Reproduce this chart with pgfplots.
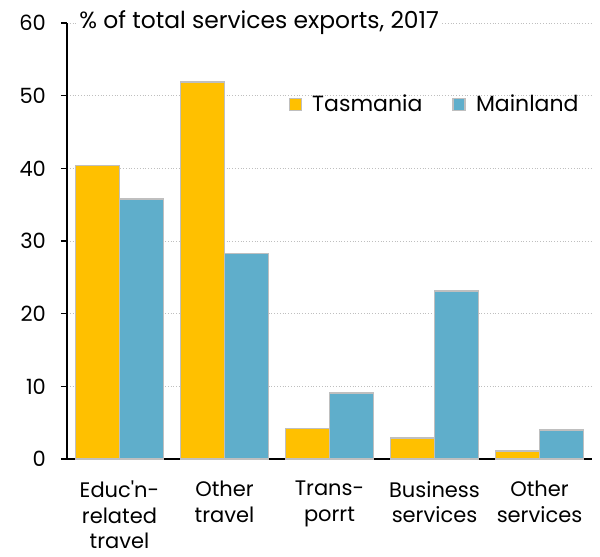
\documentclass[border=0pt]{standalone}
\usepackage{pgfplots}
\pgfplotsset{compat=1.18}
\usepackage{fontspec}
\setmainfont{Poppins}
\definecolor{tas}{HTML}{FFC000}
\definecolor{mainl}{HTML}{5FAECB}
\definecolor{bord}{HTML}{BFBFBF}

\begin{document}
\begin{tikzpicture}
\begin{axis}[
  at={(0,0)}, anchor=south west,
  scale only axis,
  width=262.5pt, height=218pt,
  xmin=-0.5, xmax=4.5,
  ymin=0, ymax=60,
  axis x line*=bottom,
  axis y line*=left,
  axis line style={line width=0.8pt, black, -},
  tick align=outside,
  ytick={0,10,...,60},
  ymajorgrids,
  grid style={densely dotted, gray!50, line width=0.4pt},
  xtick={0,...,4},
  xticklabels={{Educ\textquotesingle n-\\related\\travel},{Other\\travel},{Trans-\\porrt},{Business\\services},{Other\\services}},
  x tick label style={align=center, anchor=north, yshift=-4.5pt, font=\fontsize{10.5}{12.8}\selectfont},
  major x tick style={draw=none},
  extra x ticks={-0.5,0.5,1.5,2.5,3.5,4.5},
  extra x tick labels={},
  extra x tick style={major tick length=3pt, tick style={black, line width=0.8pt}},
  major tick length=3pt,
  y tick style={black, line width=0.8pt},
  y tick label style={font=\fontsize{10.5}{13}\selectfont, xshift=-4pt},
  /pgf/number format/assume math mode=true,
  ybar,
  bar width=0.42,
  legend style={draw=none, fill=none, at={(axis cs:1.55,48.8)}, anchor=west,
    legend columns=2, font=\fontsize{11}{13}\selectfont,
    /tikz/every even column/.append style={column sep=13pt},
    /tikz/every odd column/.append style={column sep=3pt}},
  legend image code/.code={\draw[#1, line width=0.8pt] (0pt,-3pt) rectangle (6pt,3pt);},
  clip=false,
]
\addplot[fill=tas, draw=bord, line width=0.8pt, bar shift=-0.21] coordinates {
  (0,40.4) (1,51.9) (2,4.2) (3,2.9) (4,1.1)
};
\addlegendentry{Tasmania}
\addplot[fill=mainl, draw=bord, line width=0.8pt, bar shift=0.21] coordinates {
  (0,35.8) (1,28.3) (2,9.1) (3,23.1) (4,4.0)
};
\addlegendentry{Mainland}
\node[anchor=west, fill=white, inner xsep=1pt, font=\fontsize{11.7}{13}\selectfont] at (axis cs:-0.5,60) [xshift=5pt] {\% of total services exports, 2017};
\end{axis}
\pgfresetboundingbox
\path (-33.5pt,-49pt) rectangle (266.5pt,229.5pt);
\end{tikzpicture}
\end{document}
